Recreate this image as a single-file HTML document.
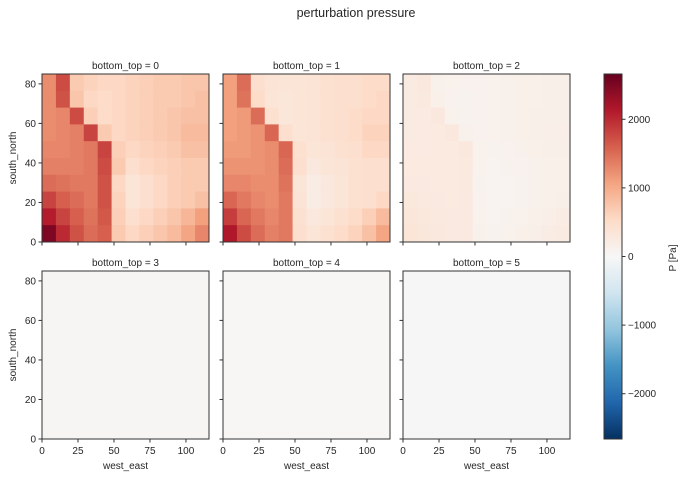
<!DOCTYPE html>
<html><head><meta charset="utf-8"><style>
body{margin:0;background:#fff;}
svg text{font-family:"Liberation Sans",sans-serif;fill:#262626;}
</style></head><body>
<svg id="fig" width="682" height="478" viewBox="0 0 682 478" xmlns="http://www.w3.org/2000/svg">
<defs><linearGradient id="cbg" x1="0" y1="1" x2="0" y2="0">
<stop offset="0" stop-color="#053061"/><stop offset="0.1" stop-color="#2166ac"/><stop offset="0.2" stop-color="#4393c3"/><stop offset="0.3" stop-color="#92c5de"/><stop offset="0.4" stop-color="#d1e5f0"/><stop offset="0.5" stop-color="#f7f7f7"/><stop offset="0.6" stop-color="#fddbc7"/><stop offset="0.7" stop-color="#f4a582"/><stop offset="0.8" stop-color="#d6604d"/><stop offset="0.9" stop-color="#b2182b"/><stop offset="1" stop-color="#67001f"/></linearGradient></defs>
<text x="356" y="17" text-anchor="middle" font-size="12.5">perturbation pressure</text>
</svg>
<script>
const panelLabels=["bottom_top = 0","bottom_top = 1","bottom_top = 2","bottom_top = 3","bottom_top = 4","bottom_top = 5"];
const xTicks=[0,25,50,75,100];
const yTicks=[0,20,40,60,80];
const cbTicks=[-2000,-1000,0,1000,2000];
const xMax=116, yMax=85, vMax=2660;
const level0=[
[1250,1750,700,600,550,550,600,650,700,700,750,750],
[1250,1700,750,550,500,550,600,650,700,700,750,800],
[1250,1300,1750,650,500,550,600,650,700,750,800,800],
[1250,1300,1350,1800,700,550,600,650,700,750,850,850],
[1300,1300,1350,1400,1800,650,550,600,650,700,800,800],
[1350,1350,1350,1400,1750,700,450,550,600,650,700,700],
[1500,1450,1400,1400,1700,550,350,450,550,650,700,700],
[1800,1600,1500,1400,1700,600,350,450,550,650,700,800],
[2100,1800,1600,1450,1650,650,450,550,650,750,900,1100],
[2500,2000,1700,1500,1600,700,550,650,750,850,1050,1300]];
const level1=[
[1100,1500,450,380,350,350,380,420,450,450,500,500],
[1100,1450,500,350,320,350,380,420,450,450,500,550],
[1100,1150,1500,420,320,350,380,420,450,500,550,550],
[1100,1150,1200,1550,450,350,380,420,450,500,600,600],
[1150,1150,1200,1250,1550,420,350,380,420,450,550,550],
[1200,1200,1200,1250,1500,450,280,350,380,420,450,450],
[1300,1300,1250,1250,1450,350,200,280,350,420,450,450],
[1550,1400,1300,1250,1400,380,200,280,350,420,450,550],
[1850,1550,1400,1300,1400,420,280,350,420,500,650,850],
[2150,1750,1500,1350,1400,450,350,420,500,600,800,1050]];
const level2=[
[230,280,130,120,110,110,120,130,140,140,150,150],
[230,270,140,110,100,110,120,130,140,140,150,160],
[230,240,280,120,100,110,120,130,140,150,160,160],
[230,240,250,280,130,110,120,130,140,150,170,170],
[240,240,250,250,280,120,100,110,130,140,160,160],
[250,250,250,250,270,120,80,100,110,130,140,140],
[260,260,250,250,270,100,70,80,100,130,140,140],
[290,270,260,250,260,110,70,80,100,130,140,160],
[320,290,270,260,260,120,80,100,120,140,170,200],
[350,310,280,260,260,130,100,120,140,160,200,230]];
const level3=[[30,30,30,30,30,30,30,30,30,30,30,30],[30,30,30,30,30,30,30,30,30,30,30,30],[30,30,30,30,30,30,30,30,30,30,30,30],[30,30,30,30,30,30,30,30,30,30,30,30],[30,30,30,30,30,30,30,30,30,30,30,30],[30,30,30,30,30,30,30,30,30,30,30,30],[30,30,30,30,30,30,30,30,30,30,30,30],[30,30,30,30,30,30,30,30,30,30,30,30],[30,30,30,30,30,30,30,30,30,30,30,30],[30,30,30,30,30,30,30,30,30,30,30,30]];
const level4=[[20,20,20,20,20,20,20,20,20,20,20,20],[20,20,20,20,20,20,20,20,20,20,20,20],[20,20,20,20,20,20,20,20,20,20,20,20],[20,20,20,20,20,20,20,20,20,20,20,20],[20,20,20,20,20,20,20,20,20,20,20,20],[20,20,20,20,20,20,20,20,20,20,20,20],[20,20,20,20,20,20,20,20,20,20,20,20],[20,20,20,20,20,20,20,20,20,20,20,20],[20,20,20,20,20,20,20,20,20,20,20,20],[20,20,20,20,20,20,20,20,20,20,20,20]];
const level5=[[10,10,10,10,10,10,10,10,10,10,10,10],[10,10,10,10,10,10,10,10,10,10,10,10],[10,10,10,10,10,10,10,10,10,10,10,10],[10,10,10,10,10,10,10,10,10,10,10,10],[10,10,10,10,10,10,10,10,10,10,10,10],[10,10,10,10,10,10,10,10,10,10,10,10],[10,10,10,10,10,10,10,10,10,10,10,10],[10,10,10,10,10,10,10,10,10,10,10,10],[10,10,10,10,10,10,10,10,10,10,10,10],[10,10,10,10,10,10,10,10,10,10,10,10]];
const levels=[level0,level1,level2,level3,level4,level5];

const NS="http://www.w3.org/2000/svg";
const svg=document.getElementById("fig");
const cmap=["#053061","#2166ac","#4393c3","#92c5de","#d1e5f0","#f7f7f7","#fddbc7","#f4a582","#d6604d","#b2182b","#67001f"];
function hex(h){return [1,3,5].map(i=>parseInt(h.substr(i,2),16));}
function color(v){let t=(v+vMax)/(2*vMax);t=Math.max(0,Math.min(1,t))*10;const i=Math.min(9,Math.floor(t)),f=t-i;const a=hex(cmap[i]),b=hex(cmap[i+1]);return "rgb("+a.map((c,k)=>Math.round(c+(b[k]-c)*f)).join(",")+")";}
function mk(tag,attrs,parent){const e=document.createElementNS(NS,tag);for(const k in attrs)e.setAttribute(k,attrs[k]);(parent||svg).appendChild(e);return e;}
const colX=[42,223,403], rowY=[74,271], W=167, H=168;
levels.forEach((grid,p)=>{
  const x0=colX[p%3], y0=rowY[Math.floor(p/3)];
  const sx=v=>x0+v/xMax*W, sy=v=>y0+H-v/yMax*H;
  const g=mk("g",{});
  
  
  const nr=grid.length,nc=grid[0].length;
  grid.forEach((row,r)=>row.forEach((v,c)=>{
    const xa=c*xMax/nc, xb=(c+1)*xMax/nc, ya=yMax-(r)*yMax/nr, yb=yMax-(r+1)*yMax/nr;
    const rc=mk("rect",{x:sx(xa),y:sy(ya),width:sx(xb)-sx(xa)+0.5,height:sy(yb)-sy(ya)+0.5,fill:color(v)},g);
    
    
  }));
  const fr=mk("rect",{x:x0,y:y0,width:W,height:H,fill:"none",stroke:"#333","stroke-width":1},g);
  
  
  const t=mk("text",{x:x0+W/2,y:y0-5,"text-anchor":"middle","font-size":"10"},g);t.textContent=panelLabels[p];
  
  
  const bottom=p>=3,left=p%3===0;
  xTicks.forEach(v=>{mk("line",{x1:sx(v),x2:sx(v),y1:y0+H,y2:y0+H+3.5,stroke:"#333"},g);
    if(bottom){const l=mk("text",{x:sx(v),y:y0+H+15,"text-anchor":"middle","font-size":"10"},g);l.textContent=v;
      
      }});
  yTicks.forEach(v=>{mk("line",{x1:x0-3.5,x2:x0,y1:sy(v),y2:sy(v),stroke:"#333"},g);
    if(left){const l=mk("text",{x:x0-6,y:sy(v)+3.5,"text-anchor":"end","font-size":"10"},g);l.textContent=v;
      
      }});
  if(bottom){const l=mk("text",{x:x0+W/2,y:469,"text-anchor":"middle","font-size":"10"},g);l.textContent="west_east";
    
    }
  if(left){const l=mk("text",{x:0,y:0,"text-anchor":"middle","font-size":"10",transform:"translate(16,"+(y0+H/2)+") rotate(-90)"},g);l.textContent="south_north";
    
    }
});
const cbX=604,cbY=74,cbW=18,cbH=365;
const cy=v=>cbY+cbH/2-v/vMax*cbH/2;
const cb=mk("rect",{x:cbX,y:cbY,width:cbW,height:cbH,fill:"url(#cbg)",stroke:"#333","stroke-width":1});


cbTicks.forEach(v=>{mk("line",{x1:cbX+cbW,x2:cbX+cbW+3.5,y1:cy(v),y2:cy(v),stroke:"#333"});
  const l=mk("text",{x:cbX+cbW+6,y:cy(v)+3.5,"font-size":"10"});l.textContent=v<0?"\u2212"+(-v):v;
  
  });
const cl=mk("text",{x:0,y:0,"text-anchor":"middle","font-size":"10",transform:"translate(676,258) rotate(-90)"});cl.textContent="P [Pa]";


</script>
</body></html>
